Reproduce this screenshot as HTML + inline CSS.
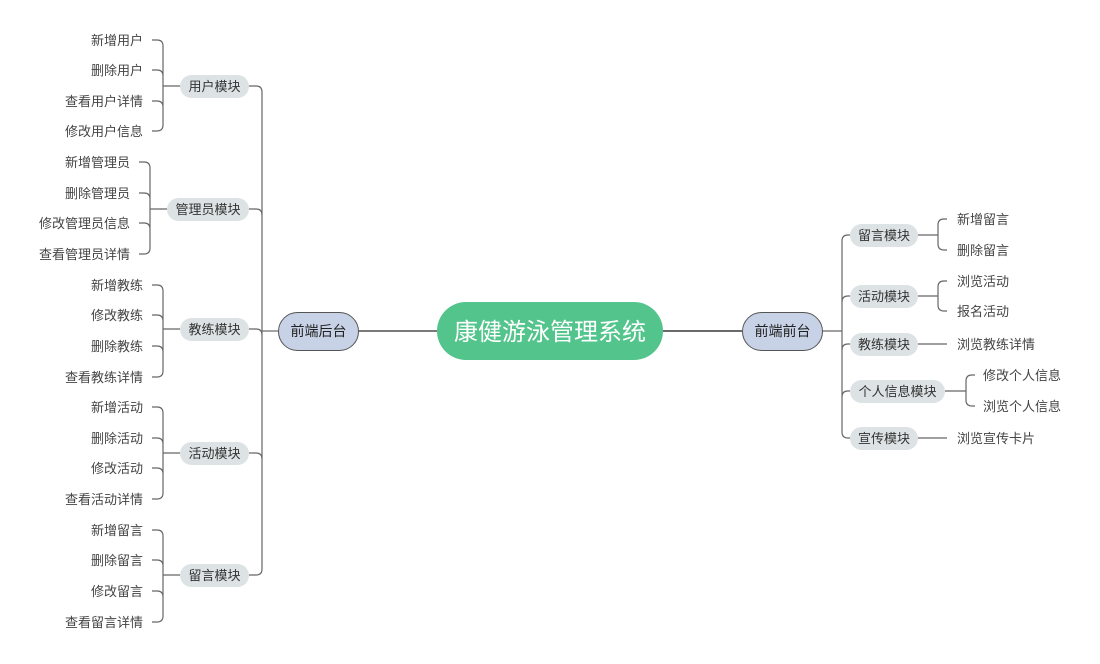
<!DOCTYPE html>
<html><head><meta charset="utf-8"><style>
html,body{margin:0;padding:0;background:#fff;}
svg{display:block;}
text{font-family:"Liberation Sans","Noto Sans CJK SC",sans-serif;font-size:13px;fill:#444;}
.l{text-anchor:end;}
.c{text-anchor:middle;}
.ln{stroke:#666;stroke-width:1.2;fill:none;}
.pill{fill:#dde3e4;}
</style></head><body>
<svg width="1100" height="664" viewBox="0 0 1100 664">
<!-- center connections -->
<line x1="358" y1="331" x2="437" y2="331" stroke="#7a7a7a" stroke-width="2"/>
<line x1="663" y1="331" x2="742" y2="331" stroke="#6a6a6a" stroke-width="2"/>
<line x1="262" y1="331" x2="278" y2="331" class="ln" stroke="#999"/>
<line x1="822" y1="331" x2="842" y2="331" class="ln" stroke="#999"/>
<!-- left trunk -->
<path class="ln" d="M249 86 H256 Q262 86 262 92 V569 Q262 575 256 575 H249"/>
<path class="ln" d="M249 209 H256 Q262 209 262 215"/>
<path class="ln" d="M249 329 H256 Q262 329 262 335"/>
<path class="ln" d="M249 453 H256 Q262 453 262 459"/>
<!-- right trunk -->
<path class="ln" d="M850 235 H848 Q842 235 842 241 V432 Q842 438 848 438 H850"/>
<path class="ln" d="M850 296 H848 Q842 296 842 302"/>
<path class="ln" d="M850 344 H848 Q842 344 842 350"/>
<path class="ln" d="M850 391 H848 Q842 391 842 397"/>

<!-- left groups brackets -->
<g class="ln">
<path d="M152 40 H157 Q163 40 163 46 V125 Q163 131 157 131 H152 M152 70 H157 Q163 70 163 76 M152 101 H157 Q163 101 163 107 M163 86 H180"/>
<path d="M139 162 H144 Q150 162 150 168 V248 Q150 254 144 254 H139 M139 193 H144 Q150 193 150 199 M139 223 H144 Q150 223 150 229 M150 209 H167"/>
<path d="M152 285 H157 Q163 285 163 291 V371 Q163 377 157 377 H152 M152 315 H157 Q163 315 163 321 M152 346 H157 Q163 346 163 352 M163 329 H180"/>
<path d="M152 407 H157 Q163 407 163 413 V493 Q163 499 157 499 H152 M152 438 H157 Q163 438 163 444 M152 468 H157 Q163 468 163 474 M163 453 H180"/>
<path d="M152 530 H157 Q163 530 163 536 V616 Q163 622 157 622 H152 M152 560 H157 Q163 560 163 566 M152 591 H157 Q163 591 163 597 M163 575 H180"/>
</g>
<!-- right brackets -->
<g class="ln">
<path d="M918 235 H938 M947 219 H944 Q938 219 938 225 V244 Q938 250 944 250 H947"/>
<path d="M918 296 H938 M947 281 H944 Q938 281 938 287 V305 Q938 311 944 311 H947"/>
<path d="M918 344 H947"/>
<path d="M945 391 H966 M975 375 H972 Q966 375 966 381 V400 Q966 406 972 406 H975"/>
<path d="M918 438 H947"/>
</g>

<!-- central nodes -->
<rect x="437" y="302" width="226" height="58" rx="29" fill="#52c48c"/>
<text x="550" y="340" class="c" style="font-size:24px;fill:#fff">康健游泳管理系统</text>
<rect x="278.5" y="312.5" width="80" height="38" rx="19" fill="#c8d2e6" stroke="#555"/>
<text x="318.5" y="336" class="c" style="font-size:14px;fill:#222">前端后台</text>
<rect x="742.5" y="312.5" width="80" height="38" rx="19" fill="#c8d2e6" stroke="#555"/>
<text x="782.5" y="336" class="c" style="font-size:14px;fill:#222">前端前台</text>

<!-- left pills -->
<rect class="pill" x="180" y="75" width="69" height="23" rx="11.5"/><text x="214.5" y="91" class="c" style="fill:#333">用户模块</text>
<rect class="pill" x="167" y="198" width="82" height="23" rx="11.5"/><text x="208" y="214" class="c" style="fill:#333">管理员模块</text>
<rect class="pill" x="180" y="318" width="69" height="23" rx="11.5"/><text x="214.5" y="334" class="c" style="fill:#333">教练模块</text>
<rect class="pill" x="180" y="442" width="69" height="23" rx="11.5"/><text x="214.5" y="458" class="c" style="fill:#333">活动模块</text>
<rect class="pill" x="180" y="564" width="69" height="23" rx="11.5"/><text x="214.5" y="580" class="c" style="fill:#333">留言模块</text>

<!-- right pills -->
<rect class="pill" x="850" y="224" width="68" height="23" rx="11.5"/><text x="884" y="240" class="c" style="fill:#333">留言模块</text>
<rect class="pill" x="850" y="285" width="68" height="23" rx="11.5"/><text x="884" y="301" class="c" style="fill:#333">活动模块</text>
<rect class="pill" x="850" y="333" width="68" height="23" rx="11.5"/><text x="884" y="349" class="c" style="fill:#333">教练模块</text>
<rect class="pill" x="850" y="380" width="95" height="23" rx="11.5"/><text x="897.5" y="396" class="c" style="fill:#333">个人信息模块</text>
<rect class="pill" x="850" y="427" width="68" height="23" rx="11.5"/><text x="884" y="443" class="c" style="fill:#333">宣传模块</text>

<!-- left leaves -->
<text x="143" y="45" class="l">新增用户</text>
<text x="143" y="75" class="l">删除用户</text>
<text x="143" y="106" class="l">查看用户详情</text>
<text x="143" y="136" class="l">修改用户信息</text>
<text x="130" y="167" class="l">新增管理员</text>
<text x="130" y="198" class="l">删除管理员</text>
<text x="130" y="228" class="l">修改管理员信息</text>
<text x="130" y="259" class="l">查看管理员详情</text>
<text x="143" y="290" class="l">新增教练</text>
<text x="143" y="320" class="l">修改教练</text>
<text x="143" y="351" class="l">删除教练</text>
<text x="143" y="382" class="l">查看教练详情</text>
<text x="143" y="412" class="l">新增活动</text>
<text x="143" y="443" class="l">删除活动</text>
<text x="143" y="473" class="l">修改活动</text>
<text x="143" y="504" class="l">查看活动详情</text>
<text x="143" y="535" class="l">新增留言</text>
<text x="143" y="565" class="l">删除留言</text>
<text x="143" y="596" class="l">修改留言</text>
<text x="143" y="627" class="l">查看留言详情</text>

<!-- right leaves -->
<text x="957" y="224">新增留言</text>
<text x="957" y="255">删除留言</text>
<text x="957" y="286">浏览活动</text>
<text x="957" y="316">报名活动</text>
<text x="957" y="349">浏览教练详情</text>
<text x="983" y="380">修改个人信息</text>
<text x="983" y="411">浏览个人信息</text>
<text x="957" y="443">浏览宣传卡片</text>
</svg>
</body></html>
